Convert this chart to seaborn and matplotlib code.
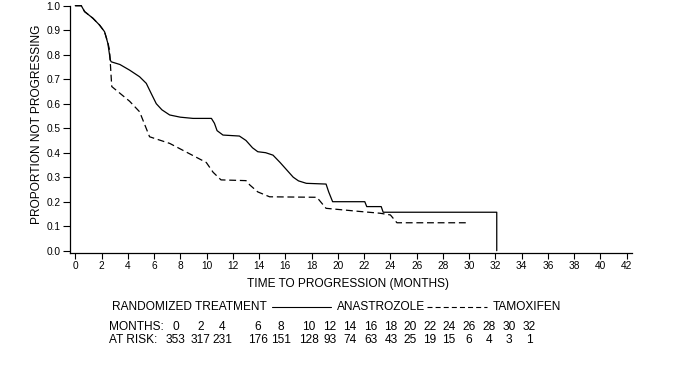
"""Time to progression, anastrozole vs tamoxifen (Kaplan-Meier style)."""

import matplotlib

matplotlib.use("Agg")
import matplotlib.pyplot as plt
from matplotlib.lines import Line2D
import numpy as np
import pandas as pd
import seaborn as sns

# curve points (months, proportion not progressing)
ana_months = [0, 0.46, 0.71, 1.34, 1.85, 2.23, 2.48, 2.67, 2.74, 3.4, 4.14, 4.9,
              5.41, 5.8, 6.17, 6.6, 7.19, 8.0, 8.97, 10.37, 10.6, 10.8, 11.25,
              12.5, 13.0, 13.5, 13.9, 14.5, 15.06, 15.6, 16.1, 16.6, 17.0, 17.6,
              19.1, 19.3, 19.6, 22.05, 22.2, 23.3, 23.45, 32.1, 32.1]
ana_prop = [1.0, 1.0, 0.976, 0.949, 0.921, 0.894, 0.847, 0.778, 0.771, 0.76,
            0.737, 0.71, 0.683, 0.64, 0.60, 0.575, 0.554, 0.545, 0.54, 0.54,
            0.52, 0.49, 0.472, 0.468, 0.45, 0.42, 0.404, 0.40, 0.39, 0.36, 0.33,
            0.30, 0.285, 0.275, 0.272, 0.24, 0.20, 0.20, 0.18, 0.18, 0.157,
            0.157, 0.0]

tam_months = [0, 0.46, 0.71, 1.34, 1.85, 2.23, 2.48, 2.61, 2.7, 2.78, 4.14, 4.9,
              5.66, 7.19, 9.98, 10.5, 11.1, 13.0, 13.3, 13.9, 14.8, 18.4, 19.1,
              21.7, 23.2, 24.0, 24.5, 29.8]
tam_prop = [1.0, 1.0, 0.976, 0.949, 0.921, 0.894, 0.85, 0.82, 0.74, 0.67, 0.61,
            0.567, 0.465, 0.438, 0.36, 0.32, 0.289, 0.286, 0.268, 0.24, 0.22,
            0.218, 0.173, 0.16, 0.153, 0.146, 0.114, 0.114]

risk_months = [0, 2, 4, 6, 8, 10, 12, 14, 16, 18, 20, 22, 24, 26, 28, 30, 32]
at_risk = [353, 317, 231, 176, 151, 128, 93, 74, 63, 43, 25, 19, 15, 6, 4, 3, 1]

# pixel centres of the risk-table columns (layout only)
risk_cols_px = [176, 201, 222, 258, 281, 309, 330, 350, 371, 391, 410, 430,
                449, 469, 489, 509, 529]

W, H = 682, 384


def fx(px):
    return px / W


def fy(py):
    return 1 - py / H


df = pd.concat([
    pd.DataFrame({"months": ana_months, "prop": ana_prop, "arm": "ANASTROZOLE"}),
    pd.DataFrame({"months": tam_months, "prop": tam_prop, "arm": "TAMOXIFEN"}),
], ignore_index=True)

sns.set_theme(style="ticks")
plt.rcParams["font.family"] = ["Liberation Sans", "DejaVu Sans"]

fig = plt.figure(figsize=(W / 100, H / 100), dpi=100)
ax = fig.add_axes([fx(70), fy(253), (632 - 70) / W, (253 - 5.7) / H])

sns.lineplot(
    data=df, x="months", y="prop", hue="arm", style="arm",
    palette={"ANASTROZOLE": "black", "TAMOXIFEN": "black"},
    dashes={"ANASTROZOLE": "", "TAMOXIFEN": (5.5, 3)},
    estimator=None, sort=False, legend=False, lw=0.9, ax=ax,
)
for line in ax.lines:
    line.set_clip_on(False)

ax.set_xlim(-0.4, 42.4)
ax.set_ylim(-0.0094, 1.0)
ax.set_xticks(np.arange(0, 43, 2))
ax.set_yticks(np.arange(0, 1.01, 0.1))
ax.set_yticklabels([f"{v:.1f}" for v in np.arange(0, 1.01, 0.1)])
ax.tick_params(axis="x", length=4, width=0.8, pad=2, labelsize=7.3, colors="black")
ax.tick_params(axis="y", length=5, width=0.8, pad=2, labelsize=7.3, colors="black")
ax.set_xlabel("")
ax.set_ylabel("")
sns.despine(ax=ax)
for s in ("left", "bottom"):
    ax.spines[s].set_linewidth(0.9)
    ax.spines[s].set_color("black")

lab = dict(fontsize=8.6, color="black")
fig.text(fx(36.7), fy(124.5), "PROPORTION NOT PROGRESSING", rotation=90,
         ha="center", va="center", **lab)
fig.text(fx(348), fy(283.5), "TIME TO PROGRESSION (MONTHS)",
         ha="center", va="center", **lab)

# treatment key row
ky = 307
fig.text(fx(111.7), fy(ky), "RANDOMIZED TREATMENT", ha="left", va="center", **lab)
fig.add_artist(Line2D([fx(271.7), fx(331)], [fy(ky), fy(ky)], color="black", lw=0.8))
fig.text(fx(336.7), fy(ky), "ANASTROZOLE", ha="left", va="center", **lab)
fig.add_artist(Line2D([fx(427.3), fx(486.7)], [fy(ky), fy(ky)], color="black",
                      lw=0.8, dashes=(4.5, 2.8)))
fig.text(fx(492.7), fy(ky), "TAMOXIFEN", ha="left", va="center", **lab)

# risk table
fig.text(fx(109), fy(327), "MONTHS:", ha="left", va="center", **lab)
fig.text(fx(109), fy(340), "AT RISK:", ha="left", va="center", **lab)
for px, m, n in zip(risk_cols_px, risk_months, at_risk):
    fig.text(fx(px), fy(327), str(m), ha="center", va="center", **lab)
    fig.text(fx(px), fy(340), str(n), ha="center", va="center", **lab)

fig.savefig("out.png", dpi=100)
plt.close(fig)
